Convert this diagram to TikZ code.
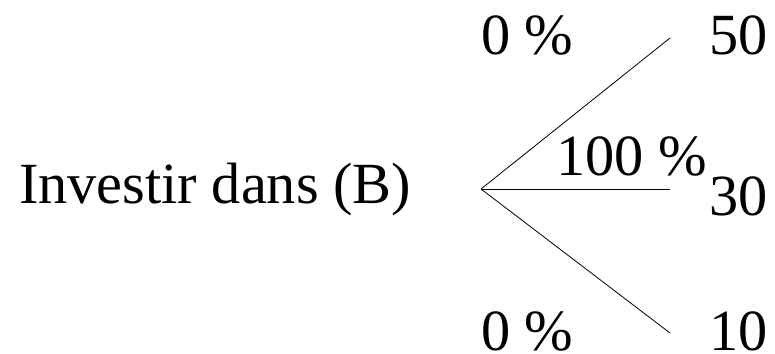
\documentclass[tikz,border=0pt]{standalone}
\usepackage{fontspec}
\setmainfont{Liberation Serif}
\begin{document}
\begin{tikzpicture}[x=1pt,y=1pt,
  lbl/.style={anchor=base west,inner sep=0pt,font=\fontsize{58.3}{60}\selectfont},
  branch/.style={draw=black,line width=0.8pt}]
\useasboundingbox (0,0) rectangle (775,-353);
\node[lbl] (root) at (19,-203) {Investir dans (B)};
\coordinate (apex) at (481,-189);
\coordinate (eT) at (670,-38);
\coordinate (eM) at (670,-189);
\coordinate (eB) at (670,-333);
\draw[branch] (apex) -- (eT);
\draw[branch] (apex) -- (eM);
\draw[branch] (apex) -- (eB);
\node[lbl] (pT) at (481,-55) {0 \%};
\node[lbl] (pM) at (556,-175) {100 \%};
\node[lbl] (pB) at (481,-350) {0 \%};
\node[lbl] (vT) at (709,-55) {50};
\node[lbl] (vM) at (709,-215) {30};
\node[lbl] (vB) at (709,-350) {10};
\end{tikzpicture}
\end{document}
